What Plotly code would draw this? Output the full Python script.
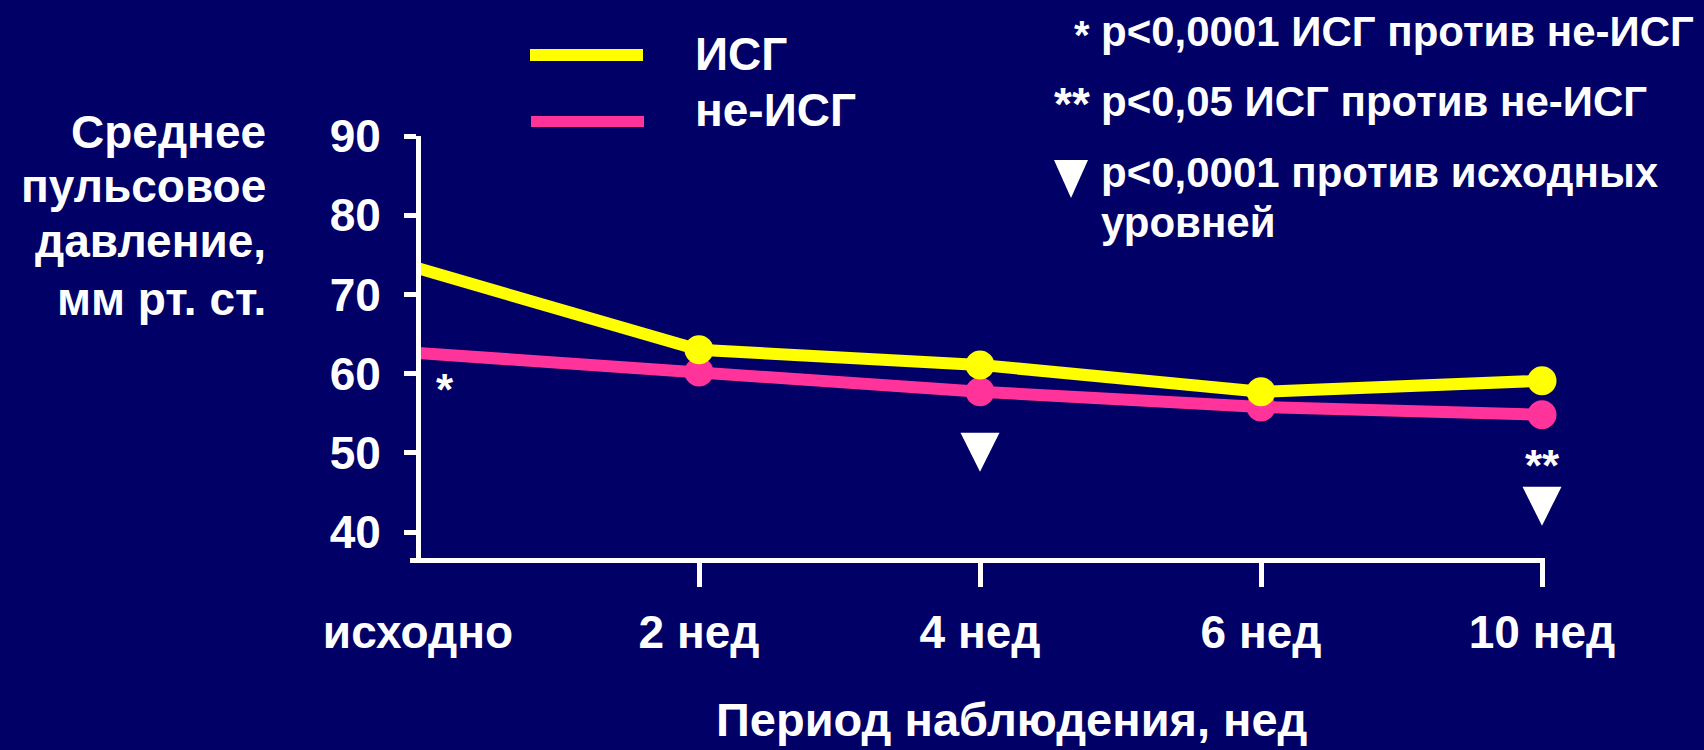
import plotly.graph_objects as go

# Observation points and mean pulse pressure (mm Hg)
categories = ["исходно", "2 нед", "4 нед", "6 нед", "10 нед"]
x_pos = [0, 1, 2, 3, 4]
isg = [73.3, 63.0, 61.1, 57.7, 59.1]
non_isg = [62.6, 60.2, 57.7, 55.8, 54.8]
y_ticks = [40, 50, 60, 70, 80, 90]

# Significance marks (triangles: vs baseline, tip position; asterisks: ИСГ vs не-ИСГ)
tri_x = [2, 4]
tri_y = [47.6, 40.8]
star_x = [0.096, 4]
star_y = [58.05, 48.4]
star_text = ["*", "**"]

BG = "#000066"
YELLOW = "#FFFF00"
PINK = "#FF3399"
FONT = "Liberation Sans, Arial, sans-serif"

W, H = 1704, 750
L, R, T, B = 410, 159, 136, 192
PW, PH = W - L - R, H - T - B
X0, STEP = 418, 281          # pixel of first category and category step


def px(x):
    return (x - L) / PW


def py(y):
    return (H - B - y) / PH


def txt(size):
    return dict(family=FONT, size=size, color="white", weight="bold")


fig = go.Figure()

for vals, color, name in [(non_isg, PINK, "не-ИСГ"), (isg, YELLOW, "ИСГ")]:
    fig.add_trace(go.Scatter(
        x=x_pos, y=vals, mode="lines+markers", name=name,
        line=dict(color=color, width=12),
        marker=dict(color=color, size=[0, 29, 29, 29, 29], opacity=1,
                    line=dict(width=0)),
        cliponaxis=False, showlegend=False,
    ))

fig.add_trace(go.Scatter(
    x=tri_x, y=tri_y, mode="markers",
    marker=dict(symbol="arrow-down", size=39, color="white", opacity=1,
                line=dict(width=0)),
    cliponaxis=False, showlegend=False,
))

annotations = []
for sx, sy, st in zip(star_x, star_y, star_text):
    annotations.append(dict(x=sx, y=sy, xref="x", yref="y", text=st,
                            showarrow=False, font=txt(44),
                            xanchor="center", yanchor="middle"))

# Y axis title, right aligned
ytitle_lines = ["Среднее", "пульсовое", "давление,", "мм рт. ст."]
ytitle_y = [132, 186, 241, 299]
for line, yy in zip(ytitle_lines, ytitle_y):
    annotations.append(dict(x=px(268), y=py(yy), xref="paper", yref="paper",
                            text=line, showarrow=False, font=txt(46),
                            xanchor="right", yanchor="middle"))

# X axis title
annotations.append(dict(x=px(1011), y=py(719), xref="paper", yref="paper",
                        text="Период наблюдения, нед", showarrow=False,
                        font=txt(47), xanchor="center", yanchor="middle"))

# Series key
annotations.append(dict(x=px(693), y=py(54), xref="paper", yref="paper",
                        text="ИСГ", showarrow=False, font=txt(46),
                        xanchor="left", yanchor="middle"))
annotations.append(dict(x=px(693), y=py(110), xref="paper", yref="paper",
                        text="не-ИСГ", showarrow=False, font=txt(46),
                        xanchor="left", yanchor="middle"))

# Significance key
key_lines = ["p<0,0001 ИСГ против не-ИСГ", "p<0,05 ИСГ против не-ИСГ",
             "p<0,0001 против исходных", "уровней"]
key_y = [32, 101, 172, 222]
for line, yy in zip(key_lines, key_y):
    annotations.append(dict(x=px(1099), y=py(yy), xref="paper", yref="paper",
                            text=line, showarrow=False, font=txt(42),
                            xanchor="left", yanchor="middle"))
for sym, yy, fs in zip(["*", "**"], key_y[:2], [40, 46]):
    annotations.append(dict(x=px(1092), y=py(yy + 3), xref="paper", yref="paper",
                            text=sym, showarrow=False, font=txt(fs),
                            xanchor="right", yanchor="middle"))

shapes = [
    dict(type="rect", xref="paper", yref="paper",
         x0=px(530), x1=px(643), y0=py(61), y1=py(49),
         fillcolor=YELLOW, line=dict(width=0)),
    dict(type="rect", xref="paper", yref="paper",
         x0=px(531), x1=px(644), y0=py(127), y1=py(116),
         fillcolor=PINK, line=dict(width=0)),
    dict(type="path", xref="paper", yref="paper",
         path=f"M {px(1054)},{py(160)} L {px(1088)},{py(160)} L {px(1071)},{py(198)} Z",
         fillcolor="white", line=dict(width=0)),
]

fig.update_layout(
    width=W, height=H,
    margin=dict(l=L, r=R, t=T, b=B, pad=0),
    paper_bgcolor=BG, plot_bgcolor=BG,
    showlegend=False,
    annotations=annotations,
    shapes=shapes,
    xaxis=dict(
        range=[(L - X0) / STEP, (W - R - X0) / STEP],
        tickmode="array", tickvals=x_pos, ticktext=categories,
        ticks="", showgrid=False, zeroline=False,
        showline=True, linecolor="white", linewidth=5,
        tickfont=txt(46), ticklabelstandoff=30,
        minor=dict(tickmode="array", tickvals=[1, 2, 3, 4], ticks="outside",
                   ticklen=24, tickwidth=5, tickcolor="white", showgrid=False),
    ),
    yaxis=dict(
        range=[36.72, 90],
        tickmode="array", tickvals=y_ticks,
        ticks="outside", ticklen=12, tickwidth=5, tickcolor="white",
        showgrid=False, zeroline=False,
        showline=True, linecolor="white", linewidth=5,
        anchor="free", position=px(X0),
        tickfont=txt(46), ticklabelstandoff=14,
    ),
)

fig.write_html("out.html")
